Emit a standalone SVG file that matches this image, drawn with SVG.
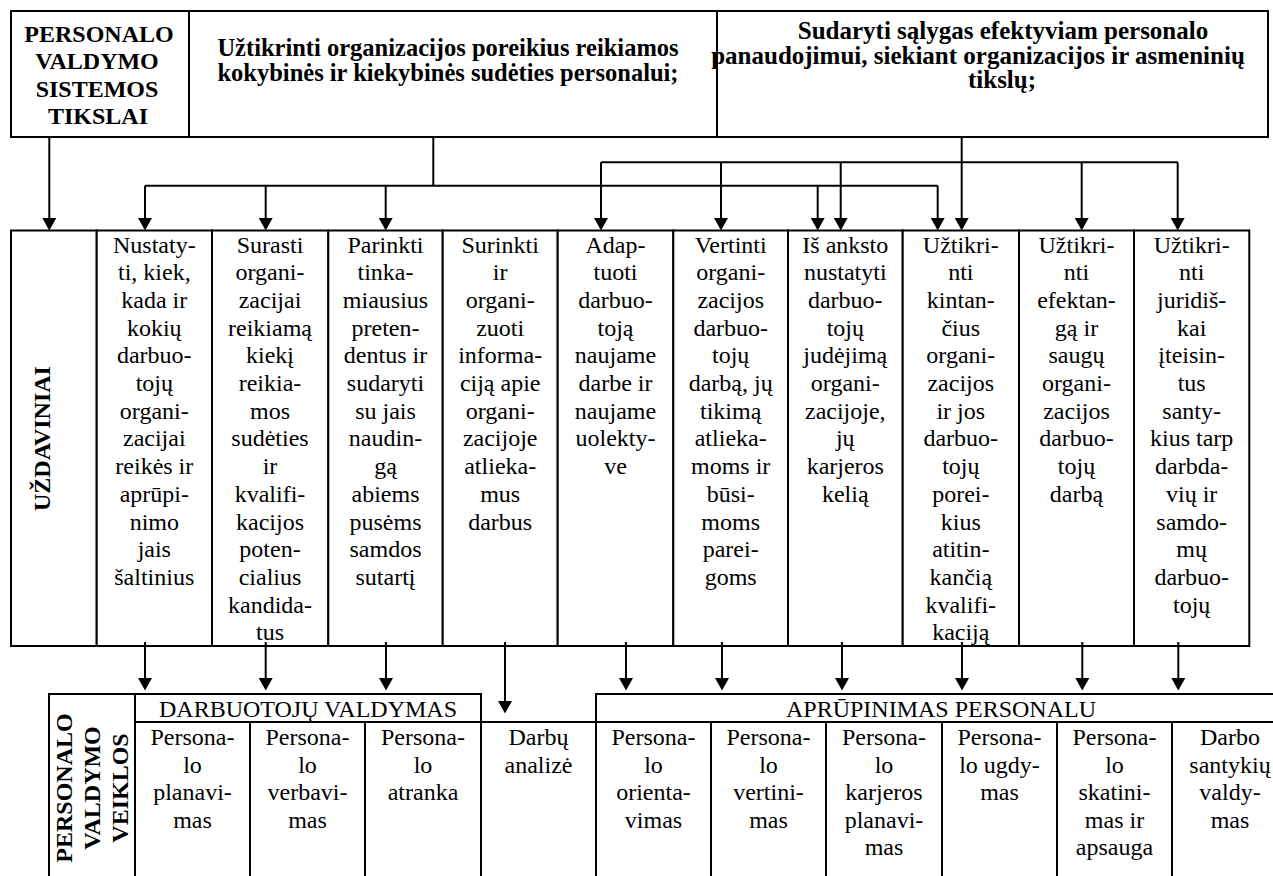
<svg xmlns="http://www.w3.org/2000/svg" width="1273" height="876" viewBox="0 0 1273 876">
<style>
.box{fill:#fff;stroke:#000;stroke-width:2}
.ln{fill:none;stroke:#000;stroke-width:2}
.f{font-family:"Liberation Serif","Times New Roman",serif;fill:#000}
.b{font-weight:bold}
.m{text-anchor:middle}
.s24{font-size:24px}
</style>
<defs>
<marker id="arr" markerUnits="userSpaceOnUse" markerWidth="13" markerHeight="14" viewBox="0 0 13 14" refX="0" refY="7" orient="auto">
<path d="M0,0 L12.5,7 L0,14 z" fill="#000"/>
</marker>
</defs>
<rect width="1273" height="876" fill="#fff"/>

<g id="goal-label">
<rect class="box" x="11" y="11" width="178" height="126"/>
<text class="f b m s24" x="99" y="41.5">PERSONALO</text>
<text class="f b m s24" x="97" y="69">VALDYMO</text>
<text class="f b m s24" x="97" y="96.5">SISTEMOS</text>
<text class="f b m s24" x="98" y="124">TIKSLAI</text>
</g>
<g id="goal-1">
<rect class="box" x="189" y="11" width="528" height="126"/>
<text class="f b m" font-size="24.5" x="448" y="56">Užtikrinti organizacijos poreikius reikiamos</text>
<text class="f b m" font-size="24.5" x="448" y="81">kokybinės ir kiekybinės sudėties personalui;</text>
</g>
<g id="goal-2">
<rect class="box" x="717" y="11" width="551" height="126"/>
<text class="f b m" font-size="25" x="1003" y="39">Sudaryti sąlygas efektyviam personalo</text>
<text class="f b m" font-size="25" x="978" y="63.5">panaudojimui, siekiant organizacijos ir asmeninių</text>
<text class="f b m" font-size="25" x="1002" y="88">tikslų;</text>
</g>

<g id="tasks-label">
<rect class="box" x="11" y="230.5" width="85.7" height="415.5"/>
<text class="f b m s24" transform="translate(50,438.5) rotate(-90)">UŽDAVINIAI</text>
</g>
<g id="task-1">
<rect class="box" x="96.7" y="230.5" width="115.3" height="415.5"/>
<text class="f m s24"><tspan x="154.3" y="252.5">Nustaty-</tspan><tspan x="154.3" dy="27.7">ti, kiek,</tspan><tspan x="154.3" dy="27.7">kada ir</tspan><tspan x="154.3" dy="27.7">kokių</tspan><tspan x="154.3" dy="27.7">darbuo-</tspan><tspan x="154.3" dy="27.7">tojų</tspan><tspan x="154.3" dy="27.7">organi-</tspan><tspan x="154.3" dy="27.7">zacijai</tspan><tspan x="154.3" dy="27.7">reikės ir</tspan><tspan x="154.3" dy="27.7">aprūpi-</tspan><tspan x="154.3" dy="27.7">nimo</tspan><tspan x="154.3" dy="27.7">jais</tspan><tspan x="154.3" dy="27.7">šaltinius</tspan></text>
</g>
<g id="task-2">
<rect class="box" x="212" y="230.5" width="116.3" height="415.5"/>
<text class="f m s24"><tspan x="270" y="252.5">Surasti</tspan><tspan x="270" dy="27.7">organi-</tspan><tspan x="270" dy="27.7">zacijai</tspan><tspan x="270" dy="27.7">reikiamą</tspan><tspan x="270" dy="27.7">kiekį</tspan><tspan x="270" dy="27.7">reikia-</tspan><tspan x="270" dy="27.7">mos</tspan><tspan x="270" dy="27.7">sudėties</tspan><tspan x="270" dy="27.7">ir</tspan><tspan x="270" dy="27.7">kvalifi-</tspan><tspan x="270" dy="27.7">kacijos</tspan><tspan x="270" dy="27.7">poten-</tspan><tspan x="270" dy="27.7">cialius</tspan><tspan x="270" dy="27.7">kandida-</tspan><tspan x="270" dy="27.7">tus</tspan></text>
</g>
<g id="task-3">
<rect class="box" x="328.3" y="230.5" width="114.4" height="415.5"/>
<text class="f m s24"><tspan x="385.5" y="252.5">Parinkti</tspan><tspan x="385.5" dy="27.7">tinka-</tspan><tspan x="385.5" dy="27.7">miausius</tspan><tspan x="385.5" dy="27.7">preten-</tspan><tspan x="385.5" dy="27.7">dentus ir</tspan><tspan x="385.5" dy="27.7">sudaryti</tspan><tspan x="385.5" dy="27.7">su jais</tspan><tspan x="385.5" dy="27.7">naudin-</tspan><tspan x="385.5" dy="27.7">gą</tspan><tspan x="385.5" dy="27.7">abiems</tspan><tspan x="385.5" dy="27.7">pusėms</tspan><tspan x="385.5" dy="27.7">samdos</tspan><tspan x="385.5" dy="27.7">sutartį</tspan></text>
</g>
<g id="task-4">
<rect class="box" x="442.7" y="230.5" width="115" height="415.5"/>
<text class="f m s24"><tspan x="500.2" y="252.5">Surinkti</tspan><tspan x="500.2" dy="27.7">ir</tspan><tspan x="500.2" dy="27.7">organi-</tspan><tspan x="500.2" dy="27.7">zuoti</tspan><tspan x="500.2" dy="27.7">informa-</tspan><tspan x="500.2" dy="27.7">ciją apie</tspan><tspan x="500.2" dy="27.7">organi-</tspan><tspan x="500.2" dy="27.7">zacijoje</tspan><tspan x="500.2" dy="27.7">atlieka-</tspan><tspan x="500.2" dy="27.7">mus</tspan><tspan x="500.2" dy="27.7">darbus</tspan></text>
</g>
<g id="task-5">
<rect class="box" x="557.7" y="230.5" width="115.6" height="415.5"/>
<text class="f m s24"><tspan x="615.5" y="252.5">Adap-</tspan><tspan x="615.5" dy="27.7">tuoti</tspan><tspan x="615.5" dy="27.7">darbuo-</tspan><tspan x="615.5" dy="27.7">toją</tspan><tspan x="615.5" dy="27.7">naujame</tspan><tspan x="615.5" dy="27.7">darbe ir</tspan><tspan x="615.5" dy="27.7">naujame</tspan><tspan x="615.5" dy="27.7">uolekty-</tspan><tspan x="615.5" dy="27.7">ve</tspan></text>
</g>
<g id="task-6">
<rect class="box" x="673.3" y="230.5" width="114.7" height="415.5"/>
<text class="f m s24"><tspan x="730.7" y="252.5">Vertinti</tspan><tspan x="730.7" dy="27.7">organi-</tspan><tspan x="730.7" dy="27.7">zacijos</tspan><tspan x="730.7" dy="27.7">darbuo-</tspan><tspan x="730.7" dy="27.7">tojų</tspan><tspan x="730.7" dy="27.7">darbą, jų</tspan><tspan x="730.7" dy="27.7">tikimą</tspan><tspan x="730.7" dy="27.7">atlieka-</tspan><tspan x="730.7" dy="27.7">moms ir</tspan><tspan x="730.7" dy="27.7">būsi-</tspan><tspan x="730.7" dy="27.7">moms</tspan><tspan x="730.7" dy="27.7">parei-</tspan><tspan x="730.7" dy="27.7">goms</tspan></text>
</g>
<g id="task-7">
<rect class="box" x="788" y="230.5" width="114.7" height="415.5"/>
<text class="f m s24"><tspan x="845.3" y="252.5">Iš anksto</tspan><tspan x="845.3" dy="27.7">nustatyti</tspan><tspan x="845.3" dy="27.7">darbuo-</tspan><tspan x="845.3" dy="27.7">tojų</tspan><tspan x="845.3" dy="27.7">judėjimą</tspan><tspan x="845.3" dy="27.7">organi-</tspan><tspan x="845.3" dy="27.7">zacijoje,</tspan><tspan x="845.3" dy="27.7">jų</tspan><tspan x="845.3" dy="27.7">karjeros</tspan><tspan x="845.3" dy="27.7">kelią</tspan></text>
</g>
<g id="task-8">
<rect class="box" x="902.7" y="230.5" width="116.3" height="415.5"/>
<text class="f m s24"><tspan x="960.8" y="252.5">Užtikri-</tspan><tspan x="960.8" dy="27.7">nti</tspan><tspan x="960.8" dy="27.7">kintan-</tspan><tspan x="960.8" dy="27.7">čius</tspan><tspan x="960.8" dy="27.7">organi-</tspan><tspan x="960.8" dy="27.7">zacijos</tspan><tspan x="960.8" dy="27.7">ir jos</tspan><tspan x="960.8" dy="27.7">darbuo-</tspan><tspan x="960.8" dy="27.7">tojų</tspan><tspan x="960.8" dy="27.7">porei-</tspan><tspan x="960.8" dy="27.7">kius</tspan><tspan x="960.8" dy="27.7">atitin-</tspan><tspan x="960.8" dy="27.7">kančią</tspan><tspan x="960.8" dy="27.7">kvalifi-</tspan><tspan x="960.8" dy="27.7">kaciją</tspan></text>
</g>
<g id="task-9">
<rect class="box" x="1019" y="230.5" width="115" height="415.5"/>
<text class="f m s24"><tspan x="1076.5" y="252.5">Užtikri-</tspan><tspan x="1076.5" dy="27.7">nti</tspan><tspan x="1076.5" dy="27.7">efektan-</tspan><tspan x="1076.5" dy="27.7">gą ir</tspan><tspan x="1076.5" dy="27.7">saugų</tspan><tspan x="1076.5" dy="27.7">organi-</tspan><tspan x="1076.5" dy="27.7">zacijos</tspan><tspan x="1076.5" dy="27.7">darbuo-</tspan><tspan x="1076.5" dy="27.7">tojų</tspan><tspan x="1076.5" dy="27.7">darbą</tspan></text>
</g>
<g id="task-10">
<rect class="box" x="1134" y="230.5" width="115.3" height="415.5"/>
<text class="f m s24"><tspan x="1191.7" y="252.5">Užtikri-</tspan><tspan x="1191.7" dy="27.7">nti</tspan><tspan x="1191.7" dy="27.7">juridiš-</tspan><tspan x="1191.7" dy="27.7">kai</tspan><tspan x="1191.7" dy="27.7">įteisin-</tspan><tspan x="1191.7" dy="27.7">tus</tspan><tspan x="1191.7" dy="27.7">santy-</tspan><tspan x="1191.7" dy="27.7">kius tarp</tspan><tspan x="1191.7" dy="27.7">darbda-</tspan><tspan x="1191.7" dy="27.7">vių ir</tspan><tspan x="1191.7" dy="27.7">samdo-</tspan><tspan x="1191.7" dy="27.7">mų</tspan><tspan x="1191.7" dy="27.7">darbuo-</tspan><tspan x="1191.7" dy="27.7">tojų</tspan></text>
</g>

<g id="connectors" class="ln">
<line x1="49.3" y1="137" x2="49.3" y2="218" marker-end="url(#arr)"/>
<line x1="433.3" y1="137" x2="433.3" y2="185.7"/>
<line x1="145" y1="185.7" x2="937.7" y2="185.7"/>
<line x1="145" y1="185.7" x2="145" y2="218" marker-end="url(#arr)"/>
<line x1="265.7" y1="185.7" x2="265.7" y2="218" marker-end="url(#arr)"/>
<line x1="385.7" y1="185.7" x2="385.7" y2="218" marker-end="url(#arr)"/>
<line x1="817.7" y1="185.7" x2="817.7" y2="218" marker-end="url(#arr)"/>
<line x1="937.7" y1="185.7" x2="937.7" y2="218" marker-end="url(#arr)"/>
<line x1="961.7" y1="137" x2="961.7" y2="218" marker-end="url(#arr)"/>
<line x1="601" y1="162.3" x2="1177.7" y2="162.3"/>
<line x1="601" y1="162.3" x2="601" y2="218" marker-end="url(#arr)"/>
<line x1="721" y1="162.3" x2="721" y2="218" marker-end="url(#arr)"/>
<line x1="840.7" y1="162.3" x2="840.7" y2="218" marker-end="url(#arr)"/>
<line x1="1081.7" y1="162.3" x2="1081.7" y2="218" marker-end="url(#arr)"/>
<line x1="1177.7" y1="162.3" x2="1177.7" y2="218" marker-end="url(#arr)"/>
<line x1="145" y1="642" x2="145" y2="678" marker-end="url(#arr)"/>
<line x1="265.7" y1="642" x2="265.7" y2="678" marker-end="url(#arr)"/>
<line x1="386" y1="642" x2="386" y2="678" marker-end="url(#arr)"/>
<line x1="505" y1="642" x2="505" y2="701" marker-end="url(#arr)"/>
<line x1="626" y1="642" x2="626" y2="678" marker-end="url(#arr)"/>
<line x1="722" y1="642" x2="722" y2="678" marker-end="url(#arr)"/>
<line x1="842" y1="642" x2="842" y2="678" marker-end="url(#arr)"/>
<line x1="962" y1="642" x2="962" y2="678" marker-end="url(#arr)"/>
<line x1="1082.3" y1="642" x2="1082.3" y2="678" marker-end="url(#arr)"/>
<line x1="1178.3" y1="642" x2="1178.3" y2="678" marker-end="url(#arr)"/>
</g>

<g id="activities-label">
<rect class="box" x="49" y="694" width="86" height="200"/>
<g class="f b m s24">
<text transform="translate(72,788) rotate(-90)">PERSONALO</text>
<text transform="translate(100,788) rotate(-90)">VALDYMO</text>
<text transform="translate(128,788) rotate(-90)">VEIKLOS</text>
</g>
</g>
<g id="hdr-darbuotoju">
<rect class="box" x="135" y="694" width="346" height="28"/>
<text class="f m s24" x="308" y="716.5">DARBUOTOJŲ VALDYMAS</text>
</g>
<g id="hdr-aprupinimas">
<rect class="box" x="596" y="694" width="692" height="28"/>
<text class="f m s24" x="941" y="716.5">APRŪPINIMAS PERSONALU</text>
</g>
<g id="act-1">
<rect class="box" x="135" y="722" width="115" height="170"/>
<text class="f m s24"><tspan x="192.5" y="745">Persona-</tspan><tspan x="192.5" dy="27.6">lo</tspan><tspan x="192.5" dy="27.6">planavi-</tspan><tspan x="192.5" dy="27.6">mas</tspan></text>
</g>
<g id="act-2">
<rect class="box" x="250" y="722" width="115" height="170"/>
<text class="f m s24"><tspan x="307.5" y="745">Persona-</tspan><tspan x="307.5" dy="27.6">lo</tspan><tspan x="307.5" dy="27.6">verbavi-</tspan><tspan x="307.5" dy="27.6">mas</tspan></text>
</g>
<g id="act-3">
<rect class="box" x="365" y="722" width="116" height="170"/>
<text class="f m s24"><tspan x="423" y="745">Persona-</tspan><tspan x="423" dy="27.6">lo</tspan><tspan x="423" dy="27.6">atranka</tspan></text>
</g>
<g id="act-4">
<rect class="box" x="481" y="722" width="115" height="170"/>
<text class="f m s24"><tspan x="538.5" y="745">Darbų</tspan><tspan x="538.5" dy="27.6">analizė</tspan></text>
</g>
<g id="act-5">
<rect class="box" x="596" y="722" width="115" height="170"/>
<text class="f m s24"><tspan x="653.5" y="745">Persona-</tspan><tspan x="653.5" dy="27.6">lo</tspan><tspan x="653.5" dy="27.6">orienta-</tspan><tspan x="653.5" dy="27.6">vimas</tspan></text>
</g>
<g id="act-6">
<rect class="box" x="711" y="722" width="115" height="170"/>
<text class="f m s24"><tspan x="768.5" y="745">Persona-</tspan><tspan x="768.5" dy="27.6">lo</tspan><tspan x="768.5" dy="27.6">vertini-</tspan><tspan x="768.5" dy="27.6">mas</tspan></text>
</g>
<g id="act-7">
<rect class="box" x="826" y="722" width="116" height="170"/>
<text class="f m s24"><tspan x="884" y="745">Persona-</tspan><tspan x="884" dy="27.6">lo</tspan><tspan x="884" dy="27.6">karjeros</tspan><tspan x="884" dy="27.6">planavi-</tspan><tspan x="884" dy="27.6">mas</tspan></text>
</g>
<g id="act-8">
<rect class="box" x="942" y="722" width="115" height="170"/>
<text class="f m s24"><tspan x="999.5" y="745">Persona-</tspan><tspan x="999.5" dy="27.6">lo ugdy-</tspan><tspan x="999.5" dy="27.6">mas</tspan></text>
</g>
<g id="act-9">
<rect class="box" x="1057" y="722" width="115" height="170"/>
<text class="f m s24"><tspan x="1114.5" y="745">Persona-</tspan><tspan x="1114.5" dy="27.6">lo</tspan><tspan x="1114.5" dy="27.6">skatini-</tspan><tspan x="1114.5" dy="27.6">mas ir</tspan><tspan x="1114.5" dy="27.6">apsauga</tspan></text>
</g>
<g id="act-10">
<rect class="box" x="1172" y="722" width="116" height="170"/>
<text class="f m s24"><tspan x="1230" y="745">Darbo</tspan><tspan x="1230" dy="27.6">santykių</tspan><tspan x="1230" dy="27.6">valdy-</tspan><tspan x="1230" dy="27.6">mas</tspan></text>
</g>
</svg>
